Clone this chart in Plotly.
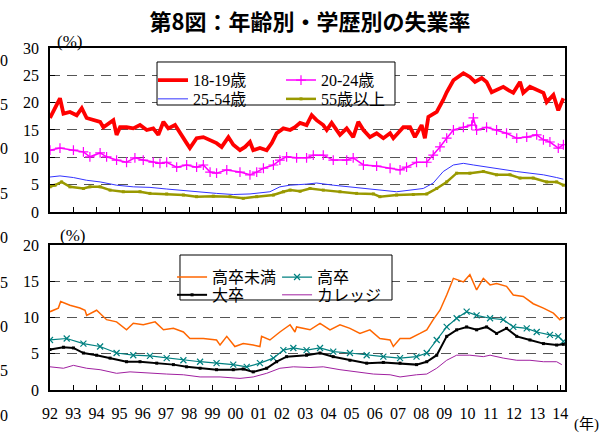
import plotly.graph_objects as go

# ---------------- data ----------------
t_1819 = [1992.00,1992.22,1992.43,1992.58,1992.86,1993.15,1993.37,1993.58,1993.87,1994.16,1994.30,1994.44,1994.73,1994.87,1995.02,1995.30,1995.59,1995.88,1996.17,1996.45,1996.67,1996.89,1997.10,1997.39,1997.60,1997.89,1998.03,1998.32,1998.61,1998.90,1999.18,1999.40,1999.69,1999.90,2000.19,2000.41,2000.62,2000.76,2001.05,2001.34,2001.56,2001.77,2002.06,2002.35,2002.56,2002.78,2003.06,2003.28,2003.49,2003.78,2003.93,2004.14,2004.50,2004.79,2005.07,2005.29,2005.51,2005.79,2006.08,2006.37,2006.66,2006.80,2007.23,2007.52,2007.73,2008.02,2008.16,2008.31,2008.67,2008.95,2009.10,2009.39,2009.82,2010.10,2010.32,2010.61,2010.82,2011.04,2011.25,2011.54,2011.76,2011.97,2012.26,2012.40,2012.69,2012.98,2013.27,2013.41,2013.70,2013.91,2014.13]
v_1819 = [17.2,19.0,20.8,18.0,18.3,17.7,19.0,17.2,16.8,16.5,15.5,15.9,16.8,14.1,15.5,15.5,15.3,15.9,15.0,15.3,14.1,16.5,15.3,15.9,14.4,12.6,11.7,13.5,13.7,13.2,12.6,11.9,13.7,12.3,11.3,11.9,12.8,11.3,11.7,11.3,12.6,14.4,15.3,15.0,15.5,16.3,15.9,17.7,16.8,15.9,15.0,16.3,14.1,15.3,13.7,16.5,15.0,13.7,14.4,13.5,14.4,13.5,15.5,15.5,13.7,15.9,13.5,17.4,18.3,20.5,21.9,24.1,25.4,24.7,23.8,24.5,23.8,21.9,22.3,22.9,22.3,21.8,23.8,21.8,22.9,22.3,21.8,20.1,21.4,18.6,20.8]

t_2024 = [1992.00,1992.43,1993.01,1993.44,1993.72,1994.16,1994.44,1994.87,1995.30,1995.66,1996.02,1996.45,1996.74,1997.03,1997.46,1997.89,1998.32,1998.61,1998.90,1999.18,1999.62,2000.19,2000.62,2000.91,2001.20,2001.63,2001.91,2002.20,2002.63,2003.06,2003.35,2003.78,2004.21,2004.79,2005.07,2005.51,2006.08,2006.66,2007.09,2007.37,2007.80,2008.24,2008.52,2008.81,2009.10,2009.39,2009.82,2010.18,2010.25,2010.39,2010.82,2011.25,2011.68,2012.12,2012.55,2012.98,2013.27,2013.55,2013.91,2014.13]
v_2024 = [11.3,11.7,11.3,11.0,10.1,10.8,10.1,9.5,9.1,9.9,9.5,9.1,8.9,9.1,8.2,8.6,8.2,8.6,7.3,7.1,7.7,7.3,6.8,7.3,8.0,8.6,9.5,10.1,9.9,9.9,10.4,10.4,9.5,9.5,9.9,8.6,8.4,8.0,7.7,8.2,9.1,9.1,10.4,11.9,13.5,15.0,15.5,15.9,17.2,15.0,15.5,15.0,14.4,13.5,13.7,14.1,13.2,12.8,11.7,12.3]

t_2554 = [1992.00,1992.43,1993.01,1993.58,1994.16,1994.87,1995.59,1996.31,1997.03,1997.75,1998.47,1999.18,1999.90,2000.62,2001.05,2001.48,2001.91,2002.35,2003.06,2003.49,2004.21,2004.93,2005.65,2006.37,2006.94,2007.52,2008.09,2008.52,2008.95,2009.39,2009.82,2010.25,2010.68,2011.11,2011.68,2012.12,2012.69,2013.27,2013.84,2014.13]
v_2554 = [6.4,6.6,6.3,5.8,5.5,4.9,4.6,4.5,4.2,3.9,3.7,3.4,3.2,3.3,3.5,3.7,4.6,4.9,5.1,5.3,4.9,4.6,4.3,4.0,3.7,4.0,4.3,5.3,7.4,8.6,8.9,8.6,8.3,8.0,7.7,7.4,7.1,6.8,6.3,6.0]

t_55 = [1992.00,1992.22,1992.50,1992.86,1993.44,1993.72,1994.16,1994.59,1995.16,1995.88,1996.31,1997.03,1997.75,1998.32,1999.04,1999.76,2000.33,2000.91,2001.63,2002.06,2002.35,2002.78,2003.21,2003.78,2004.50,2005.22,2005.94,2006.22,2006.94,2007.66,2008.24,2008.67,2009.10,2009.53,2010.10,2010.68,2011.25,2011.83,2012.26,2012.83,2013.41,2013.84,2014.13]
v_55 = [4.6,4.9,5.5,4.6,4.3,4.6,4.6,4.0,3.7,3.7,3.4,3.3,3.1,2.8,2.9,2.8,2.5,2.8,3.1,3.7,4.0,3.8,4.3,4.0,3.7,3.4,3.3,2.8,3.1,3.2,3.3,4.3,5.5,7.1,7.1,7.4,6.8,6.8,6.2,6.2,5.5,5.5,4.9]

t_lths = [1992.00,1992.36,1992.46,1992.86,1993.29,1993.51,1993.58,1994.01,1994.44,1994.87,1995.30,1995.59,1996.02,1996.53,1996.89,1997.32,1997.75,1998.03,1998.61,1999.18,1999.33,1999.62,1999.97,2000.33,2000.76,2001.05,2001.12,2001.48,2001.91,2002.35,2002.56,2002.63,2003.21,2003.64,2004.07,2004.50,2004.93,2005.36,2005.79,2006.22,2006.66,2006.80,2007.09,2007.52,2007.95,2008.24,2008.52,2008.81,2009.10,2009.39,2009.82,2010.10,2010.39,2010.68,2010.97,2011.25,2011.68,2011.97,2012.40,2012.83,2013.27,2013.70,2013.98,2014.13]
v_lths = [10.8,11.3,12.2,11.7,11.3,11.0,10.3,11.0,9.7,9.4,8.3,9.2,9.0,9.4,8.3,8.5,8.0,7.1,7.1,6.9,6.2,7.4,6.0,6.4,6.2,6.0,7.4,6.9,8.0,9.0,8.0,8.7,8.3,9.2,8.3,9.0,8.5,7.8,8.3,7.1,6.9,6.0,7.1,7.1,7.8,8.3,9.7,11.0,13.1,15.4,14.9,15.9,13.8,15.4,14.5,14.7,14.3,13.1,12.9,11.9,11.3,10.6,9.7,10.0]

t_hs = [1992.00,1992.72,1993.44,1994.16,1994.87,1995.59,1996.31,1997.03,1997.75,1998.47,1999.18,1999.90,2000.48,2001.05,2001.63,2002.06,2002.49,2003.06,2003.64,2004.21,2004.93,2005.65,2006.37,2007.09,2007.80,2008.24,2008.67,2009.10,2009.53,2009.96,2010.39,2010.97,2011.54,2011.97,2012.55,2012.98,2013.55,2013.91,2014.13]
v_hs = [6.9,7.1,6.4,6.0,5.1,4.8,4.7,4.4,4.1,3.9,3.7,3.5,3.2,3.7,4.4,5.5,5.8,5.5,5.8,5.3,5.1,4.8,4.6,4.4,4.6,5.1,6.9,8.7,9.9,10.8,10.3,9.9,9.7,8.7,8.5,8.0,7.6,7.4,6.7]

t_univ = [1992.00,1992.58,1993.01,1993.44,1994.01,1994.59,1995.30,1995.88,1996.60,1997.32,1997.89,1998.47,1999.18,1999.90,2000.33,2000.76,2001.34,2001.77,2002.20,2003.06,2003.64,2004.21,2004.93,2005.65,2006.37,2007.09,2007.80,2008.24,2008.67,2009.10,2009.53,2009.96,2010.39,2010.82,2011.25,2011.68,2012.12,2012.69,2013.27,2013.84,2014.13]
v_univ = [5.6,5.9,5.8,5.1,4.8,4.4,3.9,3.9,3.7,3.5,3.2,3.0,2.8,2.8,2.9,2.5,3.0,3.9,4.6,4.8,5.1,4.6,4.1,3.7,3.8,3.7,3.5,3.9,4.8,7.4,8.3,8.7,8.3,8.7,7.8,8.5,7.4,6.9,6.4,6.2,6.3]

t_coll = [1992.00,1992.58,1993.01,1993.58,1994.16,1994.87,1995.45,1996.31,1997.03,1997.75,1998.47,1999.33,2000.19,2000.76,2001.34,2001.91,2002.49,2003.21,2003.78,2004.50,2005.22,2005.94,2006.66,2007.09,2007.80,2008.24,2008.67,2009.10,2009.53,2010.10,2010.68,2010.97,2011.54,2012.12,2012.69,2013.27,2013.84,2014.06]
v_coll = [3.2,3.0,3.4,3.0,2.8,2.3,2.5,2.3,2.2,2.1,1.8,1.8,1.6,1.8,2.3,3.0,3.2,3.1,3.2,2.8,2.5,2.2,2.1,1.8,2.1,2.2,3.0,4.1,4.8,4.8,4.6,4.8,4.4,4.1,4.1,3.9,3.9,3.5]

year_ticks = list(range(1992, 2015))
year_labels = ["92","93","94","95","96","97","98","99","00","01","02","03","04","05","06","07","08","09","10","11","12","13","14"]
top_ticks = [0, 5, 10, 15, 20, 25, 30]
bot_ticks = [0, 5, 10, 15, 20]
ghost_labels = ["0", "5", "0", "5", "0", "5", "0", "5", "0"]

# ---------------- figure ----------------
SERIF = "Liberation Serif, DejaVu Serif, serif"
MIXED = "Liberation Serif, Noto Sans CJK JP, serif"

fig = go.Figure()

fig.add_trace(go.Scatter(x=t_1819, y=v_1819, name="18-19歳", mode="lines",
                         line=dict(color="#ff0000", width=3.8),
                         xaxis="x", yaxis="y", legend="legend"))
fig.add_trace(go.Scatter(x=t_2024, y=v_2024, name="20-24歳", mode="lines+markers",
                         line=dict(color="#ff00ff", width=1.5),
                         marker=dict(symbol="cross-thin", size=7, color="#ff00ff",
                                     line=dict(width=1.2, color="#ff00ff")),
                         xaxis="x", yaxis="y", legend="legend"))
fig.add_trace(go.Scatter(x=t_2554, y=v_2554, name="25-54歳", mode="lines",
                         line=dict(color="#3333ff", width=1),
                         xaxis="x", yaxis="y", legend="legend2"))
fig.add_trace(go.Scatter(x=t_55, y=v_55, name="55歳以上", mode="lines+markers",
                         line=dict(color="#999900", width=2.5),
                         marker=dict(symbol="square", size=3, color="#999900"),
                         xaxis="x", yaxis="y", legend="legend2"))

fig.add_trace(go.Scatter(x=t_lths, y=v_lths, name="高卒未満", mode="lines",
                         line=dict(color="#ff6600", width=1.5),
                         xaxis="x2", yaxis="y2", legend="legend3"))
fig.add_trace(go.Scatter(x=t_hs, y=v_hs, name="高卒", mode="lines+markers",
                         line=dict(color="#008080", width=1.2),
                         marker=dict(symbol="x-thin", size=6, color="#008080",
                                     line=dict(width=1.2, color="#008080")),
                         xaxis="x2", yaxis="y2", legend="legend3"))
fig.add_trace(go.Scatter(x=t_univ, y=v_univ, name="大卒", mode="lines+markers",
                         line=dict(color="#000000", width=2),
                         marker=dict(symbol="square", size=3, color="#000000"),
                         xaxis="x2", yaxis="y2", legend="legend4"))
fig.add_trace(go.Scatter(x=t_coll, y=v_coll, name="カレッジ", mode="lines",
                         line=dict(color="#a020a0", width=1),
                         xaxis="x2", yaxis="y2", legend="legend4"))

xcommon = dict(range=[1992, 2014.2], tickmode="array", tickvals=year_ticks,
               ticks="inside", ticklen=5, tickwidth=1, tickcolor="black",
               showline=True, linecolor="black", linewidth=1.5, mirror=True,
               showgrid=False, zeroline=False,
               tickfont=dict(family=SERIF, size=16, color="black"))
ycommon = dict(tickmode="array", ticks="inside", ticklen=5, tickwidth=1, tickcolor="black",
               showline=True, linecolor="black", linewidth=1.5, mirror=True,
               showgrid=True, gridcolor="#555555", gridwidth=1, griddash="10px,7px",
               zeroline=False, ticklabelstandoff=6,
               tickfont=dict(family=SERIF, size=16, color="black"))

legfont = dict(family=MIXED, size=16, color="black")
legcommon = dict(orientation="h", xanchor="left", yanchor="middle", bgcolor="rgba(0,0,0,0)",
                 borderwidth=0, font=legfont, entrywidthmode="pixels", itemwidth=30,
                 tracegroupgap=0)

fig.update_layout(
    width=602, height=435,
    margin=dict(l=50, r=37, t=48, b=45),
    paper_bgcolor="white", plot_bgcolor="white",
    showlegend=True,
    title=dict(text="<b>第8図：年齢別・学歴別の失業率</b>", x=0.515, xanchor="center",
               y=1 - 22 / 435, yanchor="middle", yref="container",
               font=dict(family="Noto Sans CJK JP", size=22, color="black")),
    xaxis=dict(xcommon, anchor="y", domain=[0, 1], showticklabels=False),
    yaxis=dict(ycommon, anchor="x", domain=[0.5205, 1], range=[0, 30], tickvals=top_ticks),
    xaxis2=dict(xcommon, anchor="y2", domain=[0, 1], ticktext=year_labels,
                ticklabelstandoff=8),
    yaxis2=dict(ycommon, anchor="x2", domain=[0, 0.424], range=[0, 20], tickvals=bot_ticks),
    legend=dict(legcommon, x=0.200, y=0.906, entrywidth=83),
    legend2=dict(legcommon, x=0.200, y=0.851, entrywidth=83),
    legend3=dict(legcommon, x=0.237, y=0.330, entrywidth=60),
    legend4=dict(legcommon, x=0.237, y=0.278, entrywidth=60),
    shapes=[
        dict(type="rect", xref="paper", yref="paper", x0=0.2078, x1=0.6699, y0=0.8333, y1=0.9591,
             line=dict(color="black", width=1), fillcolor="white", layer="above"),
        dict(type="rect", xref="paper", yref="paper", x0=0.2524, x1=0.6641, y0=0.2632, y1=0.3947,
             line=dict(color="black", width=1), fillcolor="white", layer="above"),
    ],
)

annots = [
    dict(text="(%)", x=55, y=42, size=17),
    dict(text="(%)", x=58, y=235, size=17),
    dict(text="(年)", x=572, y=424, size=15),
]
for a in annots:
    fig.add_annotation(text=a["text"], xref="paper", yref="paper",
                       x=(a["x"] - 50) / 515, y=(390 - a["y"]) / 342,
                       xanchor="left", yanchor="middle", showarrow=False,
                       font=dict(family=MIXED, size=a["size"], color="black"))
for i, s in enumerate(ghost_labels):
    py = 60 + i * 44.4
    fig.add_annotation(text=s, xref="paper", yref="paper",
                       x=(10 - 50) / 515, y=(390 - py) / 342,
                       xanchor="right", yanchor="middle", showarrow=False,
                       font=dict(family=SERIF, size=16, color="black"))

fig.write_html("out.html", config={"displayModeBar": False},
               post_script="document.body.style.margin='0';")
